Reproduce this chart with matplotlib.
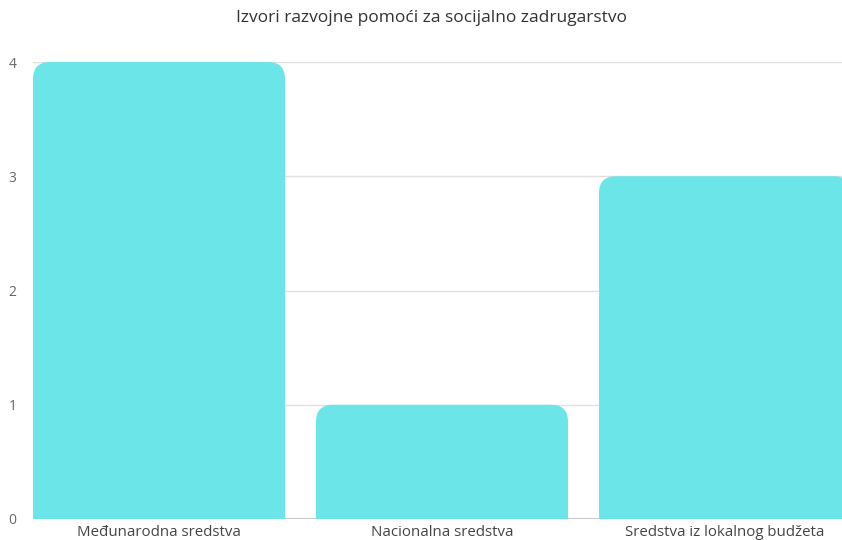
import matplotlib
matplotlib.use("Agg")
import matplotlib.pyplot as plt
from matplotlib.path import Path
from matplotlib.patches import PathPatch

categories = ["Međunarodna sredstva", "Nacionalna sredstva", "Sredstva iz lokalnog budžeta"]
values = [4, 1, 3]
yticks = [0, 1, 2, 3, 4]
title = "Izvori razvojne pomoći za socijalno zadrugarstvo"

plt.rcParams['font.family'] = ['Open Sans', 'DejaVu Sans']

W, H = 842, 540
fig = plt.figure(figsize=(W / 100, H / 100), dpi=100)
left_px, right_px, top_px, bottom_px = 33, 842, 62, 519
ax = fig.add_axes([left_px / W, 1 - bottom_px / H, (right_px - left_px) / W, (bottom_px - top_px) / H])

band_px = 283.0
bar_w = 252.0 / band_px
xmin = -bar_w / 2
xmax = xmin + (right_px - left_px) / band_px
ax.set_xlim(xmin, xmax)
ax.set_ylim(0, 4)

px_per_x = band_px
px_per_y = (bottom_px - top_px) / 4.0
r_px = 17
rx = r_px / px_per_x
ry = r_px / px_per_y
color = "#6be5e8"

for i, v in enumerate(values):
    x0, x1 = i - bar_w / 2, i + bar_w / 2
    verts = [
        (x0, 0), (x0, v - ry), (x0, v), (x0 + rx, v),
        (x1 - rx, v), (x1, v), (x1, v - ry), (x1, 0), (x0, 0)
    ]
    codes = [Path.MOVETO, Path.LINETO, Path.CURVE3, Path.CURVE3,
             Path.LINETO, Path.CURVE3, Path.CURVE3, Path.LINETO, Path.CLOSEPOLY]
    ax.add_patch(PathPatch(Path(verts, codes), facecolor=color, edgecolor='none', zorder=3, clip_on=True))

for t in yticks[1:]:
    ax.axhline(t, color="#e0e0e0", lw=1.0, zorder=1)
ax.axhline(0, color="#bdbdbd", lw=1.2, zorder=2)

for s in ax.spines.values():
    s.set_visible(False)

ax.set_yticks(yticks)
ax.set_yticklabels([str(t) for t in yticks])
ax.tick_params(axis='y', length=0, pad=12, labelsize=10, labelcolor="#666666")
ax.set_xticks(range(len(categories)))
ax.set_xticklabels(categories)
ax.tick_params(axis='x', length=0, pad=4, labelsize=10.8, labelcolor="#444444")

fig.text(431 / W, 1 - 18 / H, title, ha='center', va='center', fontsize=12.5, color="#333333")

fig.savefig("out.png", dpi=100, facecolor="white")
